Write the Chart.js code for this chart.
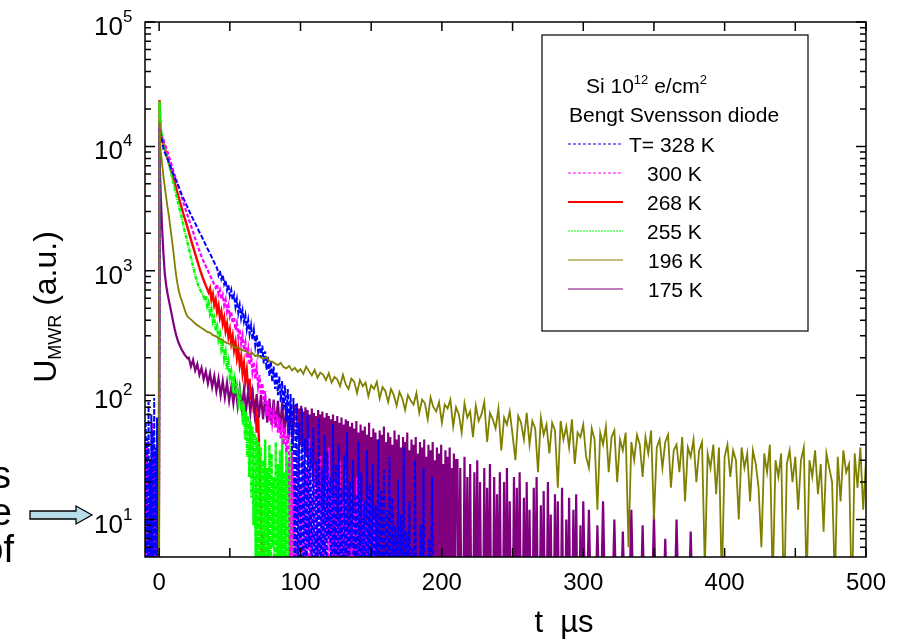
<!DOCTYPE html>
<html>
<head>
<meta charset="utf-8">
<script src="https://cdn.jsdelivr.net/npm/chart.js@4.4.1/dist/chart.umd.min.js"></script>
<style>
  html, body { margin: 0; padding: 0; background: #fff; }
  #wrap { position: relative; width: 900px; height: 641px; }
</style>
</head>
<body>
<div id="wrap"><canvas id="chart"></canvas></div>
<script>
// ---- data (t in µs, U in a.u.) ----

// 328 K (blue, dashed)
const blueLead = [1, 62, 2, 45, 1, 88, 3, 30, 1, 70, 2, 52, 1, 95, 4, 38, 1, 66, 2, 48]; // t=-10, step 0.5
const blueDecayT = [-0.2, 0.3, 1, 2, 3, 4, 6, 8, 10, 12, 14, 16, 18, 20, 22, 24, 26, 28, 30, 32, 34, 36, 38, 40];
const blueDecayU = [1, 13000, 12400, 11200, 9600, 8900, 7900, 6900, 6000, 5300, 4700, 4100, 3650, 3250, 2900, 2600, 2350, 2100, 1900, 1700, 1520, 1380, 1230, 1100];
const blueBand = [1050, 920, 1000, 860, 930, 780, 840, 700, 770, 630, 700, 580, 640, 510, 590, 460, 530, 415, 480, 390,
  440, 340, 400, 310, 365, 280, 335, 250, 305, 225, 275, 200, 250, 180, 225, 160, 205, 142, 188, 128,
  170, 112, 155, 100, 142, 88, 130, 75, 120, 62, 112, 48, 102, 35, 95]; // t=41, step 1
const blueTail = [2, 85, 3, 60, 1, 78, 4, 45, 1, 70, 6, 38, 2, 55, 1, 30, 5, 64, 1, 26, 3, 48, 1, 35, 7, 22, 1, 58, 2, 28,
  1, 40, 4, 18, 1, 33, 2, 50, 1, 20, 6, 30, 1, 16, 3, 42, 1, 24, 2, 14, 1, 36, 5, 19, 1, 28, 1, 13, 3, 44,
  1, 17, 2, 25, 1, 12, 1, 32, 1, 15, 2, 9, 1, 21, 1, 11, 1, 38, 1, 8, 1, 14, 1, 6, 1, 30, 1, 4, 1, 9,
  1, 26, 1, 3, 1, 7, 1, 22, 1, 2, 1, 5, 1, 3, 1]; // t=96, step 1

// 300 K (magenta, dashed)
const magLead = [1, 42, 1, 28, 2, 60, 1, 35, 1, 24]; // t=-10, step 1
const magDecayT = [-0.3, 0.3, 1, 2, 3, 4, 6, 8, 10, 12, 14, 16, 18, 20, 22, 24, 26, 28, 30, 32, 34, 36, 38, 40];
const magDecayU = [1, 15000, 12600, 11700, 11300, 10500, 9000, 7600, 6400, 5400, 4600, 3900, 3300, 2800, 2400, 2050, 1750, 1500, 1300, 1150, 1030, 920, 820, 730];
const magBand = [780, 650, 700, 590, 640, 530, 585, 470, 525, 430, 470, 380, 425, 335, 380, 295, 340, 260, 300, 230,
  265, 200, 235, 175, 210, 155, 185, 135, 165, 118, 145, 100, 125, 85, 108, 68, 90, 62,
  80, 60, 75, 55, 70, 50, 66, 45, 60, 40, 55, 35, 50, 30]; // t=41, step 1
const magTail = [1, 35, 2, 22, 1, 40, 3, 18, 1, 30, 2, 26, 1, 45, 4, 15, 1, 28, 2, 20, 1, 33, 1, 12, 3, 24, 1, 38, 2, 16,
  1, 21, 1, 10, 2, 30, 1, 14, 1, 25, 1, 8, 2, 18, 1, 12, 1, 22, 1, 6, 1, 14, 1, 9, 1, 17, 1, 5, 1, 10, 1, 4]; // t=93, step 1

// 268 K (red, solid)
const redDecayT = [-0.3, 0.3, 0.8, 1.5, 3, 5, 7, 9, 11, 13, 15, 17, 19, 21, 23, 25, 27, 29, 31, 33, 35];
const redDecayU = [1, 23600, 15000, 12500, 10500, 8800, 7300, 6100, 5100, 4200, 3500, 2900, 2450, 2050, 1700, 1430, 1200, 1010, 870, 760, 670];
const redBand = [720, 590, 650, 530, 585, 470, 525, 420, 470, 375, 420, 330, 375, 295, 335, 262, 300, 230, 265, 200,
  235, 175, 205, 150, 180, 130, 158, 110, 135, 92, 115, 72, 92, 50, 70, 30]; // t=36, step 1
const redTail = [12, 1, 8, 1, 5, 1]; // t=72, step 1

// 255 K (green, dash-dot-dot)
const grnDecayT = [-0.3, 0.3, 0.8, 1.5, 2, 4, 6, 8, 10, 12, 14, 16, 18, 20, 22, 24, 26, 28, 30, 31];
const grnDecayU = [1, 23000, 15500, 13000, 12500, 10000, 8000, 6400, 5100, 4100, 3300, 2650, 2100, 1700, 1350, 1080, 880, 740, 670, 640];
const grnBand = [600, 630, 520, 560, 450, 490, 390, 420, 330, 360, 280, 310, 235, 262, 195, 222, 160, 185, 138, 155,
  118, 135, 102, 118, 88, 105, 75]; // t=32, step 1
const grnTail = [90, 58, 82, 44, 74, 32, 68, 22, 62, 15, 56, 9, 50, 5, 46, 2, 42,
  1, 38, 1, 30, 4, 44, 1, 26, 2, 40, 1, 34, 6, 22, 1, 42, 3, 28, 1, 36, 2, 45, 1, 24, 5, 38, 1, 30, 2, 41, 1, 27, 3, 18, 1]; // t=58.5, step 0.75

// 196 K (olive, solid)
const oliveDecayT = [-0.3, 0.3, 1, 2, 3, 4, 5, 6, 7, 8, 9, 10, 11, 12, 13, 14, 15, 16, 17, 18, 19];
const oliveDecayU = [1, 16000, 9500, 7400, 5800, 4700, 3900, 3200, 2700, 2200, 1800, 1450, 1150, 920, 780, 680, 620, 575, 530, 490, 455];
const oliveTail = [430, 410, 392, 372, 360, 346, 336, 322, 318, 304,
  298, 288, 280, 270, 262, 258, 250, 240, 242, 232,
  228, 224, 214, 218, 206, 210, 200, 196, 202, 188,
  186, 180, 174, 182, 168, 164, 172, 158, 166, 154,
  162, 148, 170, 156, 144, 160, 138, 152, 146, 132,
  150, 126, 140, 134, 118, 146, 122, 112, 136, 128,
  104, 132, 118, 126, 98, 120, 112, 128, 94, 116,
  108, 88, 112, 100, 82, 106, 94, 76, 100, 90,
  84, 104, 72, 92, 86, 64, 96, 80, 74, 88,
  60, 84, 78, 92, 56, 80, 70, 50, 86, 66,
  74, 46, 82, 62, 70, 88, 42, 72, 64, 54,
  78, 36, 66, 58, 74, 48, 30, 68, 60, 44,
  72, 40, 62, 54, 24, 66, 48, 58, 34, 60,
  52, 18, 62, 44, 56, 38, 64, 28, 50, 46,
  58, 32, 26, 54, 44, 12, 50, 40, 56, 24,
  46, 52, 20, 44, 36, 50, 6, 42, 30, 48,
  40, 22, 46, 34, 52, 10, 38, 44, 26, 42,
  48, 18, 36, 40, 24, 46, 14, 38, 32, 44,
  20, 36, 42, 4, 34, 26, 40, 16, 38, 3,
  32, 40, 22, 36, 30, 10, 38, 26, 34, 14,
  36, 28, 18, 6, 34, 24, 40, 3, 30, 22,
  34, 2, 28, 36, 20, 32, 12, 30, 38, 3,
  30, 22, 36, 16, 28, 8, 34, 26, 20, 3,
  32, 14, 36, 24, 28, 2, 34, 18, 38, 12,
  30]; // t=20, step 2

// 175 K (purple, solid)
const purDecayT = [-0.3, 0.3, 1, 2, 3, 4, 5, 6, 7, 8, 9, 10, 11, 12, 13, 14, 15, 16, 17, 18, 19, 20];
const purDecayU = [1, 8000, 4500, 2300, 1400, 950, 760, 650, 570, 500, 440, 385, 340, 305, 280, 260, 245, 232, 222, 212, 205, 198];
const purBand = [200, 170, 192, 158, 178, 146, 166, 134, 156, 124, 150, 116, 142, 108, 136, 100, 130, 96, 126, 90,
  116, 86, 120, 82, 114, 78, 112, 76, 108, 72, 104, 70, 102, 66, 100, 64, 96, 60, 94, 58,
  92, 56, 90, 52, 88, 48, 86, 44, 84, 40, 82]; // t=21, step 1.5
const purNoise = [84, 44, 78, 40, 82, 38, 74, 35, 80, 32, 76, 28, 70, 26, 78, 22, 72, 20, 68, 17,
  76, 15, 70, 13, 74, 11, 66, 9, 72, 8, 68, 6, 64, 5, 70, 4, 62, 3, 68, 2,
  60, 2, 66, 1, 58, 1, 64, 1, 62, 1, 56,
  1, 60, 1, 54, 2, 62, 1, 50, 1, 58, 3, 52, 1, 56, 1, 48, 2, 60, 1, 46,
  1, 54, 1, 50, 4, 44, 1, 52, 1, 48, 2, 56, 1, 42, 1, 50, 1, 46, 3, 40,
  1, 52, 1, 44, 1, 48, 2, 38, 1, 46, 1, 42, 1, 50, 1, 36, 2, 44, 1, 40,
  1, 46, 1, 34, 1, 42, 2, 38, 1, 44, 1, 32, 1, 40, 1, 36, 2, 42, 1, 30,
  1, 38, 1, 34, 1, 40, 1, 28, 2, 36, 1, 32, 1, 38, 1, 26, 1, 34, 1, 30]; // t=97.5, step 0.75
const purTail = [30, 1, 26, 1, 1, 32, 1, 22, 1, 28, 1, 1, 24, 1, 30, 1, 20, 1, 1, 26,
  1, 18, 1, 28, 1, 1, 22, 1, 16, 1, 24, 1, 1, 20, 1, 26, 1, 14, 1, 1,
  22, 1, 18, 1, 24, 1, 1, 15, 1, 20, 1, 12, 1, 1, 18, 1, 22, 1, 1, 13,
  1, 17, 1, 1, 20, 1, 11, 1, 1, 16, 1, 14, 1, 1, 18, 1, 1, 10, 1, 15,
  1, 1, 12, 1, 16, 1, 1, 9, 1, 14]; // t=211, step 1
const purSparse = [1, 12, 1, 1, 9, 1, 14, 1, 1, 1, 10, 1, 1, 8, 1, 1, 12, 1, 1, 1,
  9, 1, 1, 1, 11, 1, 1, 1, 7, 1, 1, 1, 10, 1, 1, 1, 1, 8, 1, 1]; // t=302, step 2

// axes
const xTickMarks = [0, 50, 100, 150, 200, 250, 300, 350, 400, 450, 500];
const xTickLabels = [0, 100, 200, 300, 400, 500];
const yDecades = [1, 2, 3, 4, 5];
const legendLabels = ['T= 328 K', '300 K', '268 K', '255 K', '196 K', '175 K'];

// ---- helpers ----
function grid(start, step, vals) {
  return vals.map((v, i) => ({ x: start + i * step, y: v }));
}
function pairs(ts, vs) {
  return ts.map((t, i) => ({ x: t, y: vs[i] }));
}

const FONT = '"Liberation Sans", Arial, sans-serif';

// order: lower number is drawn on top
const datasets = [
  { label: legendLabels[0], borderColor: '#0000ff', borderDash: [5, 2], borderWidth: 2, order: 1,
    data: [...grid(-10, 0.5, blueLead), ...pairs(blueDecayT, blueDecayU), ...grid(41, 1, blueBand), ...grid(96, 1, blueTail)] },
  { label: legendLabels[1], borderColor: '#ff00ff', borderDash: [4, 2], borderWidth: 2.2, order: 2,
    data: [...grid(-10, 1, magLead), ...pairs(magDecayT, magDecayU), ...grid(41, 1, magBand), ...grid(93, 1, magTail)] },
  { label: legendLabels[2], borderColor: '#ff0000', borderDash: [], borderWidth: 2.4, order: 5,
    data: [...pairs(redDecayT, redDecayU), ...grid(36, 1, redBand), ...grid(72, 1, redTail)] },
  { label: legendLabels[3], borderColor: '#00ff00', borderDash: [4, 1, 1, 1], borderWidth: 2.4, order: 3,
    data: [...pairs(grnDecayT, grnDecayU), ...grid(32, 1, grnBand), ...grid(58.5, 0.75, grnTail)] },
  { label: legendLabels[4], borderColor: '#808000', borderDash: [], borderWidth: 1.8, order: 0,
    data: [...pairs(oliveDecayT, oliveDecayU), ...grid(20, 2, oliveTail)] },
  { label: legendLabels[5], borderColor: '#800080', borderDash: [], borderWidth: 2.2, order: 4,
    data: [...pairs(purDecayT, purDecayU), ...grid(21, 1.5, purBand), ...grid(97.5, 0.75, purNoise),
      ...grid(211, 1, purTail), ...grid(302, 2, purSparse)] }
];
datasets.forEach(d => { d.pointRadius = 0; d.tension = 0; d.fill = false; });

function supText(ctx, x, y, base, sup, size, supSize, rise) {
  ctx.font = size + 'px ' + FONT;
  ctx.fillText(base, x, y);
  const w = ctx.measureText(base).width;
  ctx.font = supSize + 'px ' + FONT;
  ctx.fillText(sup, x + w, y - rise);
  return w + ctx.measureText(sup).width;
}

// frame, inward ticks and all axis text
const framePlugin = {
  id: 'frame',
  afterDatasetsDraw(chart) {
    const { ctx, chartArea: a, scales: { x, y } } = chart;
    ctx.save();
    ctx.strokeStyle = '#000';
    ctx.lineWidth = 1.5;
    ctx.strokeRect(a.left, a.top, a.right - a.left, a.bottom - a.top);
    ctx.beginPath();
    xTickMarks.forEach(v => {
      const px = x.getPixelForValue(v);
      ctx.moveTo(px, a.bottom); ctx.lineTo(px, a.bottom - 9);
      ctx.moveTo(px, a.top); ctx.lineTo(px, a.top + 9);
    });
    for (let e = 0; e <= 5; e++) {
      for (let m = 1; m <= 9; m++) {
        const v = m * Math.pow(10, e);
        if (v <= y.min || v > y.max) continue;
        const py = y.getPixelForValue(v);
        const len = m === 1 ? 10 : 6;
        ctx.moveTo(a.left, py); ctx.lineTo(a.left + len, py);
        ctx.moveTo(a.right, py); ctx.lineTo(a.right - len, py);
      }
    }
    ctx.stroke();

    ctx.fillStyle = '#000';
    ctx.textBaseline = 'alphabetic';
    // x tick labels
    ctx.font = '24px ' + FONT;
    ctx.textAlign = 'center';
    xTickLabels.forEach(v => ctx.fillText(String(v), x.getPixelForValue(v), 590));
    // y tick labels
    ctx.textAlign = 'left';
    yDecades.forEach(e => {
      const py = y.getPixelForValue(Math.pow(10, e));
      ctx.font = '26px ' + FONT;
      const w = ctx.measureText('10').width;
      supText(ctx, 123 - w, py + 13, '10', String(e), 26, 17, 13);
    });
    // x title
    ctx.font = '31px ' + FONT;
    ctx.textAlign = 'center';
    ctx.fillText('t  \u00b5s', 564, 632);
    // y title
    ctx.save();
    ctx.translate(56, 307);
    ctx.rotate(-Math.PI / 2);
    ctx.textAlign = 'left';
    ctx.font = '32px ' + FONT;
    const wU = ctx.measureText('U').width;
    const wRest = ctx.measureText(' (a.u.)').width;
    ctx.font = '18px ' + FONT;
    const wSub = ctx.measureText('MWR').width;
    const sx = -(wU + wSub + wRest) / 2;
    ctx.font = '32px ' + FONT;
    ctx.fillText('U', sx, 0);
    ctx.font = '18px ' + FONT;
    ctx.fillText('MWR', sx + wU, 5);
    ctx.font = '32px ' + FONT;
    ctx.fillText(' (a.u.)', sx + wU + wSub, 0);
    ctx.restore();

    // cropped slide text and arrow on the left
    ctx.font = '38px ' + FONT;
    ctx.textAlign = 'right';
    ctx.fillText('s', 11, 488);
    ctx.fillText('e', 12, 525);
    ctx.fillText('of', 14, 562);
    ctx.beginPath();
    ctx.moveTo(30, 511); ctx.lineTo(76, 511); ctx.lineTo(76, 506); ctx.lineTo(92, 515);
    ctx.lineTo(76, 524); ctx.lineTo(76, 519); ctx.lineTo(30, 519); ctx.closePath();
    ctx.fillStyle = '#b7dee8';
    ctx.fill();
    ctx.lineWidth = 1.3;
    ctx.stroke();

    // legend box
    ctx.fillStyle = '#000';
    ctx.lineWidth = 1.2;
    ctx.strokeRect(542, 35, 266, 296);
    ctx.textAlign = 'left';
    const w1 = supText(ctx, 586, 93, 'Si 10', '12', 21, 13, 9);
    supText(ctx, 586 + w1, 93, ' e/cm', '2', 21, 13, 9);
    ctx.font = '21px ' + FONT;
    ctx.fillText('Bengt Svensson diode', 569, 122);
    const rowY = [144, 173, 202, 231, 260, 289];
    const textX = [629, 647, 647, 647, 648, 648];
    const sampleDash = [[3, 2], [3, 2], [], [2, 1], [], []];
    chart.data.datasets.forEach((d, i) => {
      ctx.save();
      ctx.strokeStyle = d.borderColor;
      ctx.lineWidth = i === 2 ? 1.8 : 1.2;
      ctx.setLineDash(sampleDash[i]);
      ctx.beginPath();
      ctx.moveTo(568, rowY[i]); ctx.lineTo(623, rowY[i]);
      ctx.stroke();
      ctx.restore();
      ctx.fillText(d.label, textX[i], rowY[i] + 8);
    });
    ctx.restore();
  }
};

new Chart(document.getElementById('chart'), {
  type: 'line',
  data: { datasets },
  options: {
    responsive: true,
    maintainAspectRatio: false,
    animation: false,
    layout: { padding: { left: 145, right: 34, top: 22, bottom: 84 } },
    scales: {
      x: { type: 'linear', min: -10, max: 500, display: false },
      y: { type: 'logarithmic', min: 5, max: 100000, display: false }
    },
    plugins: { legend: { display: false }, tooltip: { enabled: false } }
  },
  plugins: [framePlugin]
});
</script>
</body>
</html>
